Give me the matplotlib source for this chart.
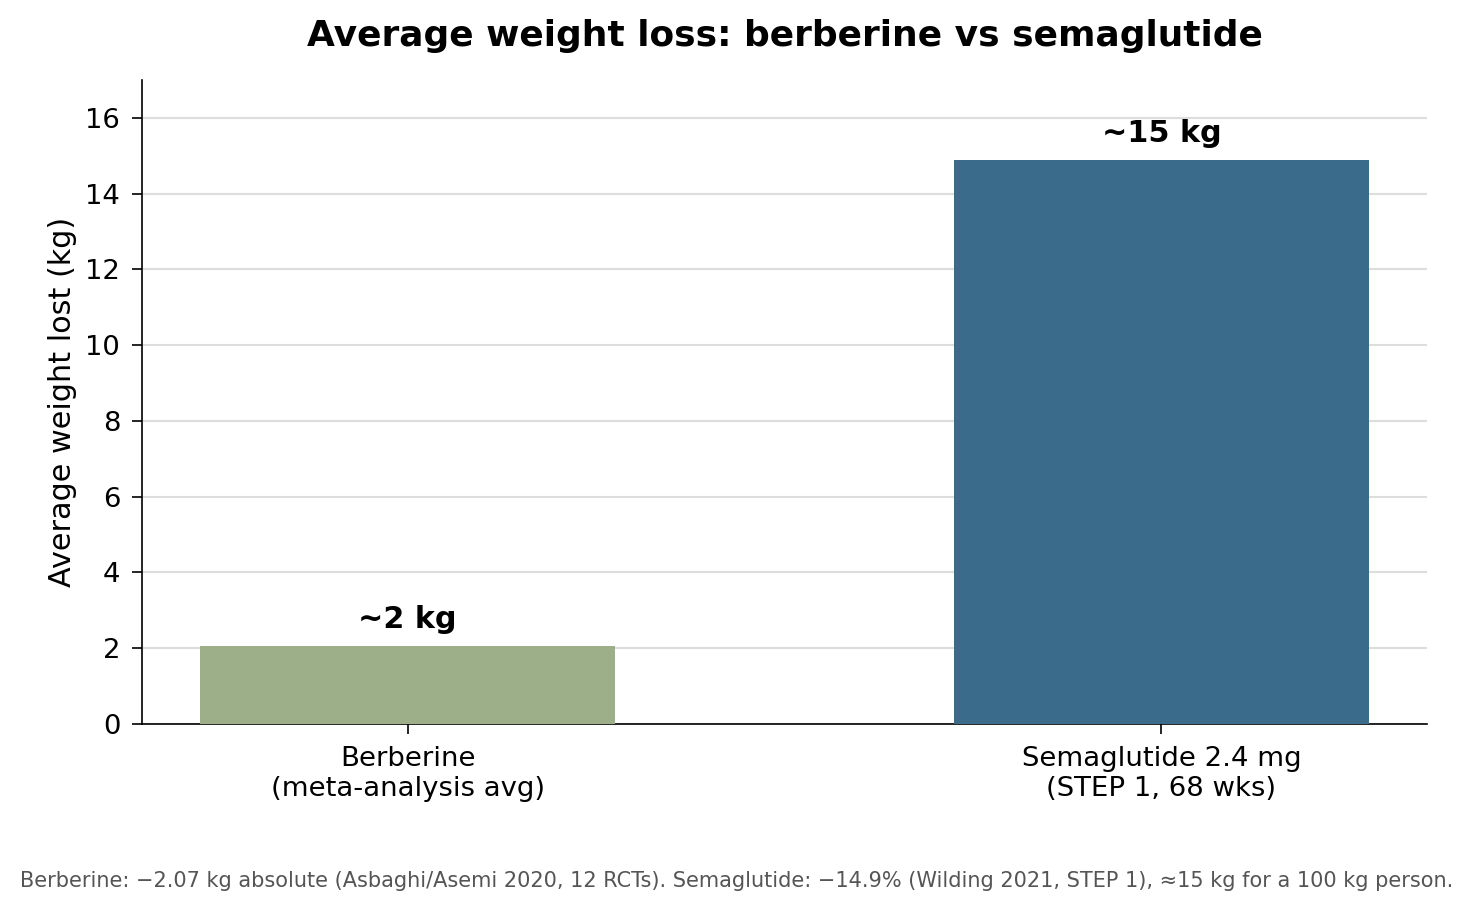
import matplotlib
matplotlib.use("Agg")
import matplotlib.pyplot as plt

categories = ["Berberine\n(meta-analysis avg)", "Semaglutide 2.4 mg\n(STEP 1, 68 wks)"]
values = [2.07, 14.9]
labels = ["~2 kg", "~15 kg"]
colors = ["#9caf88", "#3b6b8a"]
yticks = [0, 2, 4, 6, 8, 10, 12, 14, 16]
footnote = ("Berberine: \u22122.07 kg absolute (Asbaghi/Asemi 2020, 12 RCTs). "
            "Semaglutide: \u221214.9% (Wilding 2021, STEP 1), \u224815 kg for a 100 kg person.")

fig = plt.figure(figsize=(1473/150, 911/150), dpi=150)
ax = fig.add_axes([142/1473, 1-724/911, (1427-142)/1473, (724-80)/911])

x = list(range(len(values)))
ax.bar(x, values, width=0.55, color=colors, zorder=3)
for xi, v, lab in zip(x, values, labels):
    ax.text(xi, v + 0.3, lab, ha="center", va="bottom", fontsize=14.5, fontweight="bold")

ax.set_ylim(0, 17)
ax.set_yticks(yticks)
ax.set_xticks(x)
ax.set_xticklabels(categories, fontsize=13.2)
ax.tick_params(axis="both", length=4.8, pad=5.6)
ax.tick_params(axis="y", labelsize=13.2)
ax.set_ylabel("Average weight lost (kg)", fontsize=14.5)
ax.grid(axis="y", color="#dddddd", linewidth=1, zorder=0)
ax.set_axisbelow(True)
for s in ["top", "right"]:
    ax.spines[s].set_visible(False)

fig.suptitle("Average weight loss: berberine vs semaglutide", fontsize=17.3, fontweight="bold",
             x=(142+1427)/2/1473, y=1-36/911, va="center")
fig.text(0.5, 1-881/911, footnote, ha="center", va="center", fontsize=10, color="#555555")

fig.savefig("out.png", dpi=150)
